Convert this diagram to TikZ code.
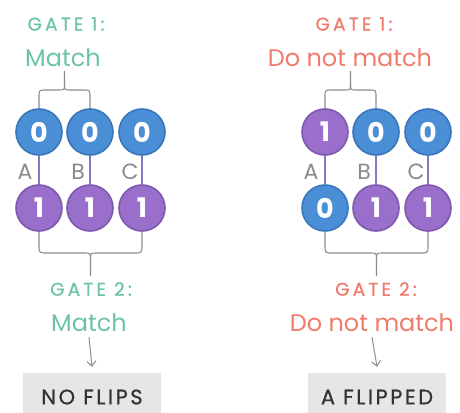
\documentclass[tikz,border=0pt]{standalone}
\usepackage{fontspec}
\setmainfont{Poppins}
\newfontfamily\gatefont[LetterSpace=17,FakeBold=0.6]{Poppins}
\newfontfamily\flipfont[LetterSpace=12,FakeBold=0.8]{Poppins}
\usetikzlibrary{arrows.meta,calc}
\definecolor{bluef}{HTML}{4A8ED6}
\definecolor{bluer}{HTML}{3B76BC}
\definecolor{purpf}{HTML}{9A6FCB}
\definecolor{purpr}{HTML}{7E57B0}
\definecolor{gatgreen}{HTML}{6CC5A0}
\definecolor{gatred}{HTML}{F07A6C}
\definecolor{lblgray}{HTML}{8A8A8A}
\definecolor{linkcol}{HTML}{7D7DC6}
\definecolor{boxgray}{HTML}{E6E6E6}
\definecolor{bracegray}{HTML}{8C8C8C}
\begin{document}
\begin{tikzpicture}[x=1pt,y=-1pt,
  bit/.style={circle, minimum size=46pt, inner sep=0pt, line width=1.6pt, text=white,
    font=\fontsize{27}{27}\selectfont\bfseries},
  zero/.style={bit, fill=bluef, draw=bluer},
  one/.style={bit, fill=purpf, draw=purpr},
  gatetitle/.style={font=\gatefont\fontsize{18.5}{18.5}\selectfont, inner sep=0pt},
  verdict/.style={font=\fontsize{24}{24}\selectfont, inner sep=0pt},
  wirelbl/.style={font=\fontsize{22}{22}\selectfont, text=lblgray, inner sep=0pt},
  wire/.style={draw=linkcol, line width=2pt},
  brace/.style={draw=bracegray, line width=1.1pt},
  arr/.style={draw=bracegray, line width=1pt, -{Straight Barb[length=5pt,width=9pt]}},
  resultbox/.style={fill=boxgray, minimum width=138pt, minimum height=48pt, inner sep=0pt,
    text=black!80, font=\flipfont\fontsize{21}{21}\selectfont}
]
\useasboundingbox (0,0) rectangle (460,412);
\fill[white] (0,0) rectangle (460,412);

% ---------- left panel ----------
\node[gatetitle, text=gatgreen] (lg1) at (66,24) {GATE 1:};
\node[verdict, text=gatgreen] (lm1) at (63,58) {Match};
\node[zero] (lA0) at (39,132) {0};
\node[zero] (lB0) at (90,132) {0};
\node[zero] (lC0) at (142,132) {0};
\node[one] (lA1) at (39,208) {1};
\node[one] (lB1) at (90,208) {1};
\node[one] (lC1) at (142,208) {1};
\draw[wire] (lA0.south) -- (lA1.north);
\draw[wire] (lB0.south) -- (lB1.north);
\draw[wire] (lC0.south) -- (lC1.north);
\node[wirelbl] (la) at (25,172) {A};
\node[wirelbl] (lb) at (78,172) {B};
\node[wirelbl] (lc) at (130,172) {C};
\draw[brace] (lA0.north) -- (39,97) .. controls (39,90) .. (46,90) -- (58.5,90) .. controls (64.5,90) .. (64.5,84) -- (64.5,71);
\draw[brace] (lB0.north) -- (90,97) .. controls (90,90) .. (83,90) -- (70.5,90) .. controls (64.5,90) .. (64.5,84);
\draw[brace] (lA1.south) -- (39,245) .. controls (39,253) .. (47,253) -- (84,253) .. controls (90.5,253) .. (90.5,259) -- (90.5,276);
\draw[brace] (lC1.south) -- (142,245) .. controls (142,253) .. (134,253) -- (97,253) .. controls (90.5,253) .. (90.5,259);
\node[gatetitle, text=gatgreen] (lg2) at (91,289) {GATE 2:};
\node[verdict, text=gatgreen] (lm2) at (89,323) {Match};
\node[resultbox] (lbox) at (92,397) {NO FLIPS};
\draw[arr] ($(lm2.south)+(0,5)$) -- ($(lbox.north)+(0,-6)$);

% ---------- right panel ----------
\node[gatetitle, text=gatred] (rg1) at (354,24) {GATE 1:};
\node[verdict, text=gatred] (rm1) at (350,58) {Do not match};
\node[one] (rA0) at (325,132) {1};
\node[zero] (rB0) at (376,132) {0};
\node[zero] (rC0) at (428,132) {0};
\node[zero] (rA1) at (325,208) {0};
\node[one] (rB1) at (376,208) {1};
\node[one] (rC1) at (428,208) {1};
\draw[wire] (rA0.south) -- (rA1.north);
\draw[wire] (rB0.south) -- (rB1.north);
\draw[wire] (rC0.south) -- (rC1.north);
\node[wirelbl] (ra) at (311,172) {A};
\node[wirelbl] (rb) at (364,172) {B};
\node[wirelbl] (rc) at (416,172) {C};
\draw[brace] (rA0.north) -- (325,97) .. controls (325,90) .. (332,90) -- (344.5,90) .. controls (350.5,90) .. (350.5,84) -- (350.5,71);
\draw[brace] (rB0.north) -- (376,97) .. controls (376,90) .. (369,90) -- (356.5,90) .. controls (350.5,90) .. (350.5,84);
\draw[brace] (rA1.south) -- (325,245) .. controls (325,253) .. (333,253) -- (370,253) .. controls (376.5,253) .. (376.5,259) -- (376.5,276);
\draw[brace] (rC1.south) -- (428,245) .. controls (428,253) .. (420,253) -- (383,253) .. controls (376.5,253) .. (376.5,259);
\node[gatetitle, text=gatred] (rg2) at (376,289) {GATE 2:};
\node[verdict, text=gatred] (rm2) at (372,323) {Do not match};
\node[resultbox] (rbox) at (377,397) {A FLIPPED};
\draw[arr] ($(rm2.south)+(0,5)$) -- ($(rbox.north)+(0,-6)$);
\end{tikzpicture}
\end{document}
